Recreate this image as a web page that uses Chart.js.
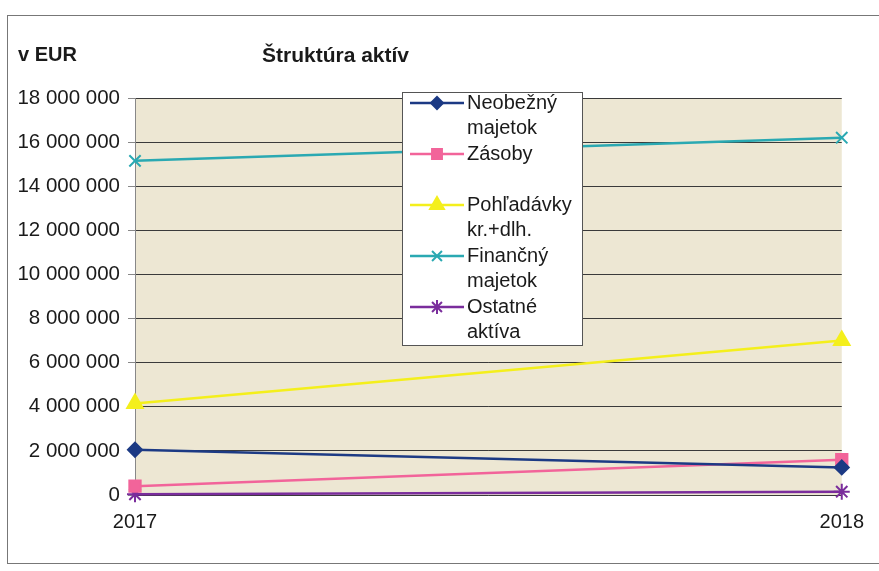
<!DOCTYPE html>
<html>
<head>
<meta charset="utf-8">
<script src="https://cdn.jsdelivr.net/npm/chart.js@4.4.0/dist/chart.umd.min.js"></script>
<style>
    html, body { margin: 0; padding: 0; background: #fff; }
    #wrap { position: relative; width: 879px; height: 571px; overflow: hidden; }
    #frame {
        position: absolute; left: 7px; top: 15px; width: 900px; height: 549px;
        border: 1px solid #777; box-sizing: border-box;
    }
    #myChart { position: absolute; left: 0; top: 0; }
</style>
</head>
<body>
<div id="wrap">
    <div id="frame"></div>
    <canvas id="myChart" width="879" height="571"></canvas>
</div>
<script>
const years = ["2017", "2018"];

const seriesNames = [
    ["Neobežný", "majetok"],
    ["Zásoby"],
    ["Pohľadávky", "kr.+dlh."],
    ["Finančný", "majetok"],
    ["Ostatné", "aktíva"],
];

const neobezny = [2050000, 1250000];
const zasoby = [400000, 1600000];
const pohladavky = [4150000, 7000000];
const financny = [15150000, 16200000];
const ostatne = [30000, 150000];

const yTicks = { min: 0, max: 18000000, step: 2000000 };

const colors = ["#1c3a84", "#f2649a", "#f4ef1c", "#2aa9b2", "#7a2d9c"];
const markers = ["rectRot", "rect", "triangle", "crossRot", "star"];
const markerSizes = [7, 8, 9, 8, 8];

const FONT = "'Liberation Sans', Arial, sans-serif";

function spaced(v) {
    return String(v).replace(/\B(?=(\d{3})+(?!\d))/g, " ");
}

const plotBg = {
    id: "plotBg",
    beforeDraw(chart) {
        const { ctx, chartArea: a } = chart;
        ctx.save();
        ctx.fillStyle = "#ede7d3";
        ctx.fillRect(a.left, a.top, a.right - a.left, a.bottom - a.top);
        ctx.restore();
    },
};

const titles = {
    id: "titles",
    afterDraw(chart) {
        const ctx = chart.ctx;
        ctx.save();
        ctx.fillStyle = "#1a1a1a";
        ctx.font = "bold 20px " + FONT;
        ctx.textBaseline = "middle";
        ctx.fillText("v EUR", 18, 55);
        ctx.font = "bold 21px " + FONT;
        ctx.fillText("Štruktúra aktív", 262, 56);
        ctx.restore();
    },
};

const boxLegend = {
    id: "boxLegend",
    afterDraw(chart) {
        const ctx = chart.ctx;
        const x0 = 402, y0 = 92, w = 180, h = 253;
        ctx.save();
        ctx.fillStyle = "#fff";
        ctx.fillRect(x0, y0, w, h);
        ctx.strokeStyle = "#555";
        ctx.lineWidth = 1;
        ctx.strokeRect(x0 + 0.5, y0 + 0.5, w, h);

        chart.data.datasets.forEach((ds, i) => {
            const y = 103 + i * 51;
            ctx.strokeStyle = ds.borderColor;
            ctx.lineWidth = 2.5;
            ctx.beginPath();
            ctx.moveTo(410, y);
            ctx.lineTo(464, y);
            ctx.stroke();
            ctx.fillStyle = ds.backgroundColor;
            ctx.lineWidth = 2;
            Chart.helpers.drawPoint(ctx, {
                pointStyle: ds.pointStyle,
                radius: ds.pointRadius - 1,
                borderWidth: 2,
                rotation: 0,
            }, 437, y);

            ctx.fillStyle = "#1a1a1a";
            ctx.font = "20px " + FONT;
            ctx.textBaseline = "middle";
            seriesNames[i].forEach((t, j) => ctx.fillText(t, 467, y + j * 25));
        });
        ctx.restore();
    },
};

const allSeries = [neobezny, zasoby, pohladavky, financny, ostatne];

const ctx = document.querySelector("#myChart");

const myChart = new Chart(ctx, {
    type: "line",
    data: {
        labels: years,
        datasets: allSeries.map((values, i) => ({
            label: seriesNames[i].join(" "),
            data: values,
            borderColor: colors[i],
            backgroundColor: colors[i],
            borderWidth: 2.5,
            pointStyle: markers[i],
            pointRadius: markerSizes[i],
            pointBorderWidth: 2,
            tension: 0,
            clip: false,
        })),
    },
    options: {
        responsive: false,
        animation: false,
        layout: {
            padding: { top: 98, right: 33, bottom: 0, left: 0 },
        },
        plugins: {
            legend: { display: false },
            tooltip: { enabled: false },
        },
        scales: {
            x: {
                offset: false,
                grid: { display: false, drawTicks: false },
                border: { display: false },
                ticks: {
                    padding: 15,
                    color: "#1a1a1a",
                    font: { family: FONT, size: 20 },
                    maxRotation: 0,
                },
                afterFit(scale) {
                    scale.height = 76;
                },
            },
            y: {
                min: yTicks.min,
                max: yTicks.max,
                ticks: {
                    stepSize: yTicks.step,
                    padding: 8,
                    color: "#1a1a1a",
                    font: { family: FONT, size: 20.5 },
                    callback: (v) => spaced(v),
                },
                grid: {
                    color: "#3a3a3a",
                    lineWidth: 1,
                    tickLength: 7,
                    tickColor: "#888",
                },
                border: { color: "#888", width: 1 },
                afterFit(scale) {
                    scale.width = 135;
                },
            },
        },
    },
    plugins: [plotBg, titles, boxLegend],
});
</script>
</body>
</html>
